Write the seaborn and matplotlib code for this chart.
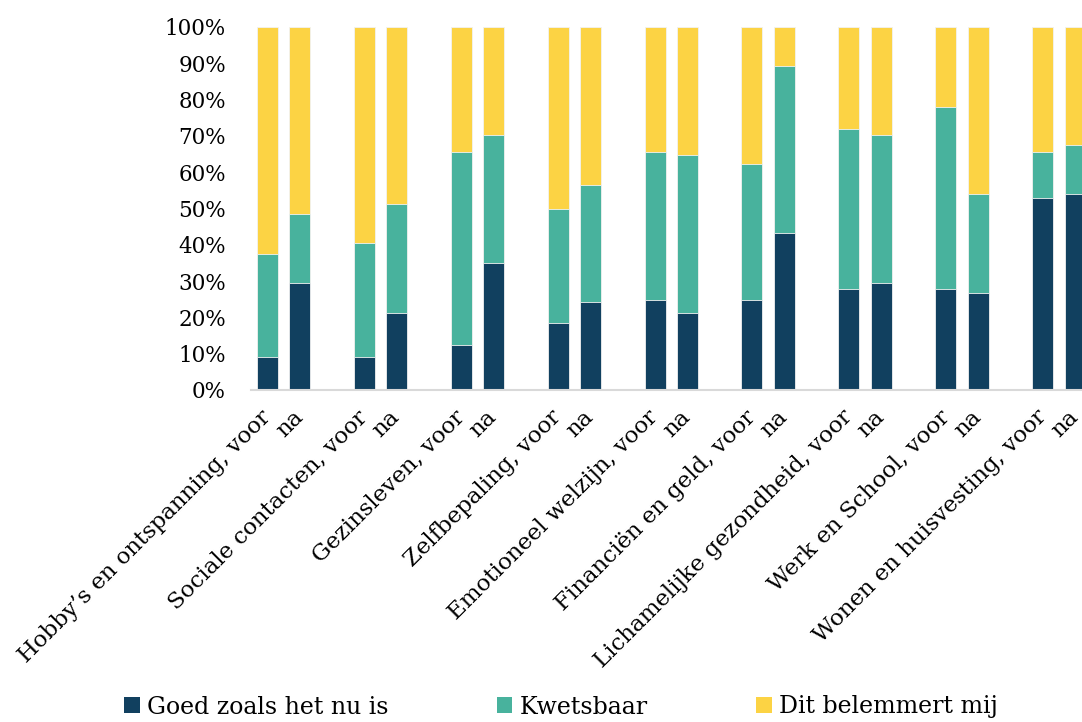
import numpy as np
import pandas as pd
import matplotlib
matplotlib.use("Agg")
import matplotlib.pyplot as plt
from matplotlib.patches import Patch
import seaborn as sns

# ---- data (percent) ----
groups = ["Hobby’s en ontspanning", "Sociale contacten", "Gezinsleven", "Zelfbepaling",
          "Emotioneel welzijn", "Financiën en geld", "Lichamelijke gezondheid",
          "Werk en School", "Wonen en huisvesting"]
moments = ["voor", "na"]
# per bar, in order: group1 voor, group1 na, group2 voor, ...
goed = [9.2, 29.5, 9.2, 21.3, 12.3, 34.9, 18.5, 24.1, 24.9, 21.3,
        24.9, 43.1, 27.9, 29.5, 27.9, 26.8, 52.9, 53.9]
kwetsbaar = [28.1, 19.0, 31.3, 30.0, 53.2, 35.2, 31.3, 32.4, 40.6, 43.5,
             37.4, 46.1, 44.0, 40.6, 50.1, 27.2, 12.6, 13.5]
belemmert = [62.7, 51.5, 59.5, 48.7, 34.5, 29.9, 50.2, 43.5, 34.5, 35.2,
             37.7, 10.8, 28.1, 29.9, 22.0, 46.0, 34.5, 32.6]
series_names = ["Goed zoals het nu is", "Kwetsbaar", "Dit belemmert mij"]
colors = ["#11405F", "#48B29D", "#FCD344"]

# ---- build frame ----
pos, labels = [], []
for gi, g in enumerate(groups):
    for mi, m in enumerate(moments):
        pos.append(3 * gi + mi)
        labels.append(f"{g}, {m}" if m == "voor" else m)
df = pd.DataFrame({"pos": pos, "goed": goed, "kwetsbaar": kwetsbaar, "belemmert": belemmert})
df["c1"] = df["goed"]
df["c2"] = df["goed"] + df["kwetsbaar"]
df["c3"] = df["c2"] + df["belemmert"]

sns.set_theme(style="white")
plt.rcParams["font.family"] = ["DejaVu Serif"]
plt.rcParams["text.color"] = "black"
plt.rcParams["xtick.color"] = "black"
plt.rcParams["ytick.color"] = "black"

fig = plt.figure(figsize=(10.82, 7.22), dpi=100)
ax = fig.add_axes([251 / 1082, 1 - 390 / 722, 1 - 251 / 1082, (390 - 26.7) / 722])

for col, c in zip(["c3", "c2", "c1"], [colors[2], colors[1], colors[0]]):
    sns.barplot(data=df, x="pos", y=col, native_scale=True, color=c, width=0.65,
                saturation=1, edgecolor="#f2f2f2", linewidth=0.6, ax=ax, errorbar=None)

ax.set_xlim(-0.5, 25.21)
ax.set_ylim(0, 100)
ax.set_yticks(np.arange(0, 101, 10))
ax.set_yticklabels([f"{v}%" for v in range(0, 101, 10)], fontsize=15.5, color="black")
ax.set_xticks(pos)
ax.set_xticklabels(labels, rotation=45, ha="right", va="center", rotation_mode="anchor",
                   fontsize=16.5, color="black")
ax.tick_params(axis="y", length=0, pad=18)
ax.tick_params(axis="x", length=0, pad=17)
ax.set_xlabel("")
ax.set_ylabel("")
for s in ["left", "right", "top"]:
    ax.spines[s].set_visible(False)
ax.spines["bottom"].set_color("#d9d9d9")
ax.spines["bottom"].set_linewidth(1.5)

handles = [Patch(facecolor=c, edgecolor="none") for c in colors]
fig.legend(handles, series_names, loc="center", bbox_to_anchor=(561 / 1082, 1 - 707 / 722),
           ncol=3, frameon=False, fontsize=17, columnspacing=4.6, handletextpad=0.3,
           handlelength=0.65, handleheight=0.65)

fig.savefig("out.png", dpi=100)
